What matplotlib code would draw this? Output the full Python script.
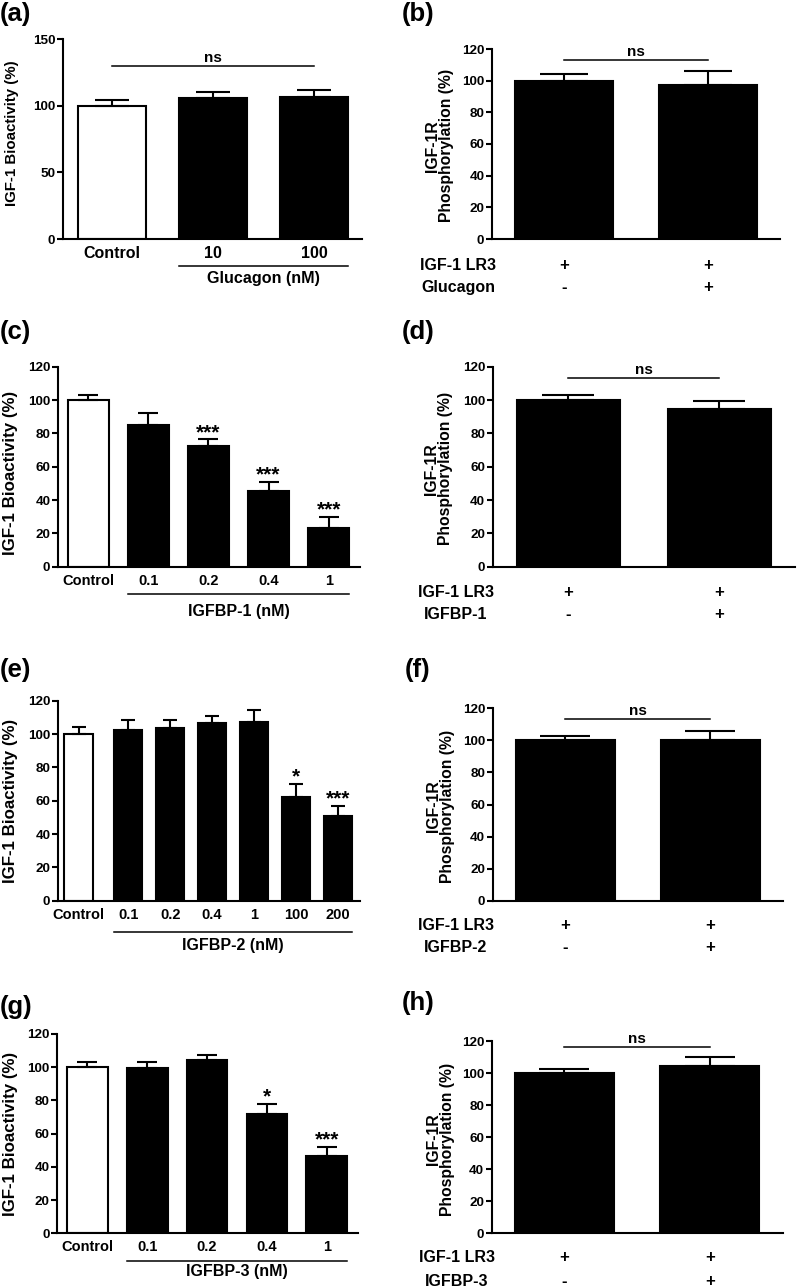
import matplotlib
matplotlib.use("Agg")
import matplotlib.pyplot as plt
import matplotlib.transforms as mtransforms
import numpy as np

plt.rcParams['font.family'] = ['Liberation Sans', 'DejaVu Sans']
plt.rcParams['font.weight'] = 'bold'
plt.rcParams['axes.labelweight'] = 'bold'

# ---------------- data ----------------
a_labels = ['Control', '10', '100']
a_means = [100, 105.5, 106.5]
a_errs = [4.2, 4.7, 5.0]
a_group = 'Glucagon (nM)'
a_ns_y = 130

b_means = [100, 97]
b_errs = [4, 9]
b_rows = ['IGF-1 LR3', 'Glucagon']
b_signs = [['+', '+'], ['-', '+']]
b_ns_y = 113

c_labels = ['Control', '0.1', '0.2', '0.4', '1']
c_means = [100, 85, 72.5, 45.5, 23.5]
c_errs = [3, 7, 4, 5.5, 6.5]
c_stars = ['', '', '***', '***', '***']
c_group = 'IGFBP-1 (nM)'

d_means = [100, 94.5]
d_errs = [3, 4.8]
d_rows = ['IGF-1 LR3', 'IGFBP-1']
d_signs = [['+', '+'], ['-', '+']]
d_ns_y = 113.4

e_labels = ['Control', '0.1', '0.2', '0.4', '1', '100', '200']
e_means = [100, 102.5, 103.5, 106.5, 107.5, 62, 51]
e_errs = [4, 6, 5, 4.5, 6.7, 8, 6]
e_stars = ['', '', '', '', '', '*', '***']
e_group = 'IGFBP-2 (nM)'

f_means = [100, 100]
f_errs = [2.8, 5.6]
f_rows = ['IGF-1 LR3', 'IGFBP-2']
f_signs = [['+', '+'], ['-', '+']]
f_ns_y = 113.3

g_labels = ['Control', '0.1', '0.2', '0.4', '1']
g_means = [100, 99.5, 104.5, 72, 46.5]
g_errs = [3, 3.6, 2.6, 6, 5.6]
g_stars = ['', '', '', '*', '***']
g_group = 'IGFBP-3 (nM)'

h_means = [100, 104.4]
h_errs = [2.8, 5.8]
h_rows = ['IGF-1 LR3', 'IGFBP-3']
h_signs = [['+', '+'], ['-', '+']]
h_ns_y = 116.4

# ---------------- layout ----------------
W, H = 797, 1288
DPI = 100
fig = plt.figure(figsize=(W / DPI, H / DPI), dpi=DPI)
FS_Y = 9.7      # y tick labels
FS_X = 10.5     # x tick labels
FS_G = 11.5     # group labels / row labels
FS_NS = 11
FS_STAR = 15
LW = 1.5
BW = 0.68


def make_ax(left, right, top, bottom):
    return fig.add_axes([left / W, 1 - bottom / H, (right - left) / W, (bottom - top) / H])


def style(ax, ylim, yticks, xfs=FS_X):
    ax.set_ylim(*ylim)
    ax.set_yticks(yticks)
    for s in ['top', 'right']:
        ax.spines[s].set_visible(False)
    for s in ['left', 'bottom']:
        ax.spines[s].set_linewidth(LW)
    ax.tick_params(axis='y', direction='out', length=4, width=LW, labelsize=FS_Y, pad=1.5)
    ax.tick_params(axis='x', length=0, labelsize=xfs, pad=5)


def draw_bars(ax, pos, means, errs, fills, xlim):
    ax.set_xlim(*xlim)
    ax.bar(pos, means, width=BW, color=fills, edgecolor='black', linewidth=LW, zorder=2)
    bbox = ax.get_position()
    ax_w_px = bbox.width * W
    bar_px = BW * ax_w_px / (xlim[1] - xlim[0])
    cap = 0.25 * bar_px * 72 / DPI
    ax.errorbar(pos, means, yerr=[np.zeros(len(means)), errs], fmt='none', ecolor='black',
                elinewidth=LW, capsize=cap, capthick=LW, zorder=3)


def stars(ax, pos, means, errs, marks):
    for x, m, e, s in zip(pos, means, errs, marks):
        if s:
            ax.annotate(s, (x, m + e), xytext=(0, -2), textcoords='offset points',
                        ha='center', va='bottom', fontsize=FS_STAR, fontweight='bold')


def group_line(ax, x0, x1, yline, label, ylab, fs=FS_G):
    tr = mtransforms.blended_transform_factory(ax.transData, ax.transAxes)
    ax.plot([x0 - BW / 2, x1 + BW / 2], [yline, yline], color='black', lw=1.1,
            transform=tr, clip_on=False)
    ax.text((x0 + x1) / 2, ylab, label, transform=tr, ha='center', va='center',
            fontsize=fs, fontweight='bold')


def ns_line(ax, x0, x1, y):
    ax.plot([x0, x1], [y, y], color='black', lw=1.1, clip_on=False)
    ax.annotate('ns', ((x0 + x1) / 2, y), xytext=(0, 0.5), textcoords='offset points',
                ha='center', va='bottom', fontsize=FS_NS, fontweight='bold')


def two_bar_panel(rect, means, errs, rows, signs, ns_y, row_y, lab_x, row_x):
    ax = make_ax(*rect)
    pos = np.arange(2)
    draw_bars(ax, pos, means, errs, ['black', 'black'], (-0.5, 1.5))
    style(ax, (0, 120), np.arange(0, 121, 20))
    ax.set_xticks([])
    ax.set_ylabel('IGF-1R\nPhosphorylation (%)', fontsize=11.3, fontweight='bold',
                  linespacing=0.95)
    ax.yaxis.set_label_coords(lab_x, 0.49)
    ns_line(ax, 0, 1, ns_y)
    tr = mtransforms.blended_transform_factory(ax.transData, ax.transAxes)
    tra = ax.transAxes
    for r, (name, sg) in enumerate(zip(rows, signs)):
        ax.text(row_x, row_y[r], name, transform=tra, ha='center', va='center',
                fontsize=FS_G, fontweight='bold')
        for x, s in zip(pos, sg):
            ax.text(x, row_y[r], s, transform=tr, ha='center', va='center',
                    fontsize=12, fontweight='bold')
    return ax


def multi_panel(rect, labels, means, errs, marks, group, pos, xlim, line_y, lab_y, ylim,
                yticks, lab_x, lab_yc, ylab_fs=12.2, xfs=FS_X, gfs=FS_G):
    ax = make_ax(*rect)
    fills = ['white'] + ['black'] * (len(means) - 1)
    draw_bars(ax, pos, means, errs, fills, xlim)
    style(ax, ylim, yticks, xfs)
    ax.set_xticks(pos)
    ax.set_xticklabels(labels, fontweight='bold')
    ax.set_ylabel('IGF-1 Bioactivity (%)', fontsize=ylab_fs, fontweight='bold')
    ax.yaxis.set_label_coords(lab_x, lab_yc)
    stars(ax, pos, means, errs, marks)
    group_line(ax, pos[1], pos[-1], line_y, group, lab_y, gfs)
    return ax


# (a)
axa = multi_panel((63, 362, 39, 239), a_labels, a_means, a_errs, ['', '', ''], a_group,
                  np.arange(3), (-0.485, 2.475), -0.135, -0.197, (0, 150), [0, 50, 100, 150],
                  -0.146, 0.53, ylab_fs=10.8, xfs=11.5, gfs=11.6)
ns_line(axa, 0, 2, a_ns_y)

# (b)
two_bar_panel((492, 780, 49, 239), b_means, b_errs, b_rows, b_signs, b_ns_y,
              [-0.137, -0.253], -0.132, -0.118)

# (c)
axc = multi_panel((58, 360, 366.7, 566.7), c_labels, c_means, c_errs, c_stars, c_group,
                  np.arange(5), (-0.5, 4.52), -0.137, -0.225, (0, 120), np.arange(0, 121, 20),
                  -0.131, 0.47)

# (d)
two_bar_panel((492.7, 795, 366.7, 566.7), d_means, d_errs, d_rows, d_signs, d_ns_y,
              [-0.13, -0.24], -0.131, -0.123)

# (e)
e_pos = np.concatenate([[0], np.arange(1, 7) + 0.18])
axe = multi_panel((58, 360, 700.7, 900.7), e_labels, e_means, e_errs, e_stars, e_group,
                  e_pos, (-0.49, 6.70), -0.155, -0.222, (0, 120), np.arange(0, 121, 20),
                  -0.131, 0.50)

# (f)
two_bar_panel((492.7, 782.7, 708.3, 900.7), f_means, f_errs, f_rows, f_signs, f_ns_y,
              [-0.13, -0.245], -0.13, -0.127)

# (g)
axg = multi_panel((57.3, 358, 1034, 1233.3), g_labels, g_means, g_errs, g_stars, g_group,
                  np.arange(5), (-0.5, 4.52), -0.139, -0.193, (0, 120), np.arange(0, 121, 20),
                  -0.13, 0.50)

# (h)
two_bar_panel((491.7, 782.7, 1041, 1233.3), h_means, h_errs, h_rows, h_signs, h_ns_y,
              [-0.128, -0.25], -0.125, -0.119)

# panel letters
for lab, x, y in [('(a)', 0, 14), ('(b)', 402, 14), ('(c)', 0, 332), ('(d)', 402, 332),
                  ('(e)', 0, 670), ('(f)', 405, 670), ('(g)', 0, 1007), ('(h)', 402, 1003)]:
    fig.text(x / W, 1 - y / H, lab, ha='left', va='center', fontsize=18.5, fontweight='bold')

fig.savefig('out.png', dpi=DPI)
